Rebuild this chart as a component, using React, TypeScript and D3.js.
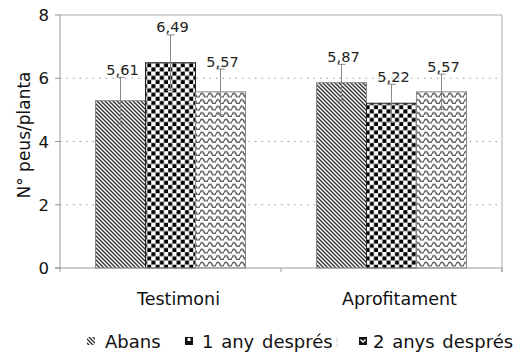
import * as d3 from "d3"

const categories = ["Testimoni", "Aprofitament"]
const series = ["Abans", "1 any després", "2 anys després"]
// bar heights (the first label does not match its bar)
const values = [
    [5.29, 6.49, 5.57],
    [5.86, 5.21, 5.57],
]
const errors = [
    [0.74, 0.88, 0.72],
    [0.58, 0.6, 0.56],
]
const valueLabels = [
    ["5,61", "6,49", "5,57"],
    ["5,87", "5,22", "5,57"],
]
const yTicks = [0, 2, 4, 6, 8]

const W = 518
const H = 358
const left = 60, right = 502, top = 15, bottom = 268
const font = "'DejaVu Sans', Verdana, sans-serif"
const patterns = ["diag", "checker", "wave"]

const App = () => {
    const x = d3.scaleBand().domain(categories).range([left, right]).paddingInner(0).paddingOuter(0)
    const xs = d3.scaleBand().domain(series).range([0, x.bandwidth()]).paddingInner(0).paddingOuter(0.71)
    const y = d3.scaleLinear().domain([0, 8]).range([bottom, top])

    return (
        <svg width={W} height={H} style={{ position: "absolute", left: 0, top: 0 }} fontFamily={font}>
            <defs>
                <pattern id="diag" width={4} height={4} patternUnits="userSpaceOnUse">
                    <rect width={4} height={4} fill="#fff" />
                    <path d="M-1,-1 L5,5 M-1,3 L1,5 M3,-1 L5,1" stroke="#333" strokeWidth={1.4} />
                </pattern>
                <pattern id="checker" width={8.4} height={8.4} patternUnits="userSpaceOnUse">
                    <rect width={8.4} height={8.4} fill="#fff" />
                    <rect x={0.2} y={0.2} width={4} height={4} fill="#000" />
                    <rect x={4.4} y={4.4} width={4} height={4} fill="#000" />
                </pattern>
                <pattern id="wave" width={8} height={6.5} patternUnits="userSpaceOnUse">
                    <rect width={8} height={6.5} fill="#fff" />
                    <path d="M0,4.3 Q2,0 4,4.3 T8,4.3" fill="none" stroke="#555" strokeWidth={1.5} />
                </pattern>
            </defs>

            {/* gridlines */}
            {yTicks.filter(t => t > 0 && t < 8).map(t => (
                <line key={t} x1={left} x2={right} y1={y(t)} y2={y(t)} stroke="#999" strokeDasharray="1.5,5" />
            ))}

            {/* frame */}
            <line x1={left} x2={right} y1={top} y2={top} stroke="#aaa" />
            <line x1={right} x2={right} y1={top} y2={bottom + 4} stroke="#aaa" />
            <line x1={left} x2={left} y1={top} y2={bottom} stroke="#999" />

            {/* bars */}
            {categories.map((c, ci) => (
                <g key={c}>
                    {series.map((s, si) => (
                        <rect key={s} x={x(c) + xs(s)} y={y(values[ci][si])} width={xs.bandwidth()}
                            height={y(0) - y(values[ci][si])} fill={`url(#${patterns[si]})`}
                            stroke={si === 1 ? "#222" : "#888"} strokeWidth={1} />
                    ))}
                </g>
            ))}

            {/* error bars and labels */}
            {categories.map((c, ci) => series.map((s, si) => {
                const cx = x(c) + xs(s) + xs.bandwidth() / 2
                const v = values[ci][si], e = errors[ci][si]
                return (
                    <g key={c + s}>
                        <line x1={cx} x2={cx} y1={y(v + e)} y2={y(v - e)} stroke="#888" />
                        <line x1={cx - 4} x2={cx + 4} y1={y(v + e)} y2={y(v + e)} stroke="#888" />
                        <line x1={cx - 4} x2={cx + 4} y1={y(v - e)} y2={y(v - e)} stroke="#888" />
                        <text x={cx + 2} y={y(v + e) - 2.5} textAnchor="middle" fontSize={14.5} fill="#222">
                            {valueLabels[ci][si]}
                        </text>
                    </g>
                )
            }))}

            {/* y axis */}
            {yTicks.map(t => (
                <g key={t}>
                    <line x1={left - 5} x2={left} y1={y(t)} y2={y(t)} stroke="#999" />
                    <text x={49} y={y(t) + 6} textAnchor="end" fontSize={16.5} fill="#111">{t}</text>
                </g>
            ))}
            <text transform="translate(30,135) rotate(-90)" textAnchor="middle" fontSize={17} fill="#111">
                N° peus/planta
            </text>

            {/* x axis */}
            <line x1={left - 5} x2={right} y1={bottom} y2={bottom} stroke="#999" />
            {[left, ...categories.map(c => x(c) + x.bandwidth())].map((t, i) => (
                <line key={i} x1={t} x2={t} y1={bottom} y2={bottom + 4} stroke="#999" />
            ))}
            {categories.map(c => (
                <text key={c} x={x(c) + x.bandwidth() / 2 + 8} y={305} textAnchor="middle" fontSize={17.5} fill="#111">
                    {c}
                </text>
            ))}

            {/* legend */}
            <g fontSize={18} fill="#111" wordSpacing={2}>
                <rect x={87} y={337} width={8} height={8} fill="url(#diag)" />
                <text x={105} y={348}>{series[0]}</text>
                <rect x={185} y={337} width={8} height={8} fill="#111" />
                <rect x={187.5} y={338} width={3} height={3} fill="#fff" />
                <text x={202} y={348}>{series[1]}</text>
                <line x1={337} x2={337} y1={338} y2={348} stroke="#bbb" strokeDasharray="1,1" />
                <rect x={359} y={337} width={8} height={8} fill="#111" />
                <path d="M360.5,339.5 L363,342 L365.5,339.5" fill="none" stroke="#fff" strokeWidth={1.3} />
                <text x={373} y={348}>{series[2]}</text>
            </g>
        </svg>
    )
}

export default App
